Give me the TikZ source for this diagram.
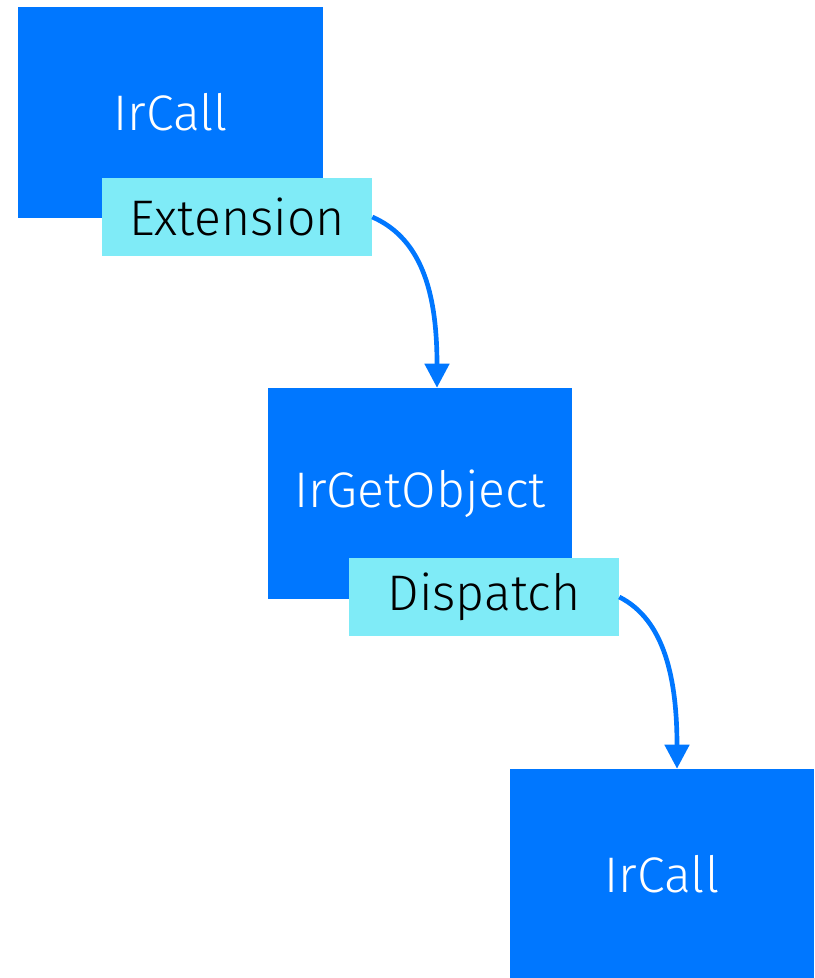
\documentclass[tikz,border=0pt]{standalone}
\usepackage{fontspec}
\setmainfont{Fira Sans Light}
\usetikzlibrary{arrows.meta}
\definecolor{boxblue}{HTML}{0077FF}
\definecolor{tagcyan}{HTML}{7FEBF7}
\newlength{\pxu}\setlength{\pxu}{0.75pt}
\tikzset{
  irbox/.style={rectangle, fill=boxblue, draw=none, text=white, minimum width=304\pxu, minimum height=211\pxu, inner sep=0pt, font=\fontsize{37.5}{44}\selectfont},
  tagbox/.style={rectangle, fill=tagcyan, draw=none, text=black, minimum width=270\pxu, minimum height=78\pxu, inner sep=0pt, font=\fontsize{37.5}{44}\selectfont},
  link/.style={draw=boxblue, line width=3.5pt, -{Triangle[length=18pt,width=18pt]}}
}
\begin{document}
\begin{tikzpicture}[x=0.75pt,y=-0.75pt]
\useasboundingbox (0,0) rectangle (814,978);
\node[irbox, minimum width=305\pxu] (c1) at (170.5,112.5) {IrCall};
\node[tagbox] (t1) at (237,217) {Extension};
\node[irbox] (g) at (420,493.5) {IrGetObject};
\node[tagbox] (t2) at (484,597) {Dispatch};
\node[irbox] (c2) at (662,874.5) {IrCall};
\draw[link] (t1.east) .. controls (425,240) and (437,300) .. (g.north -| 437,0);
\draw[link] (t2.east) .. controls (665,620) and (677,680) .. (c2.north -| 677,0);
\end{tikzpicture}
\end{document}
